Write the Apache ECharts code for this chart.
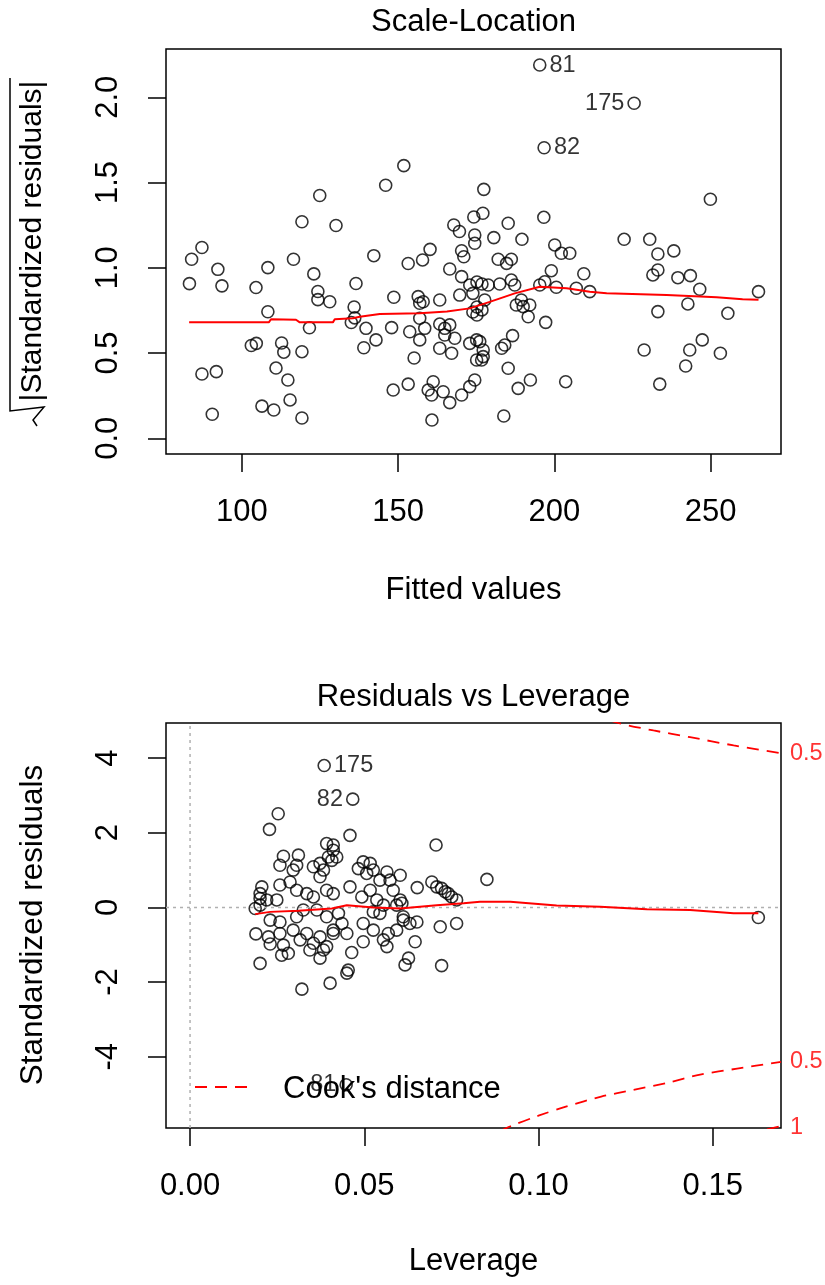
<!DOCTYPE html>
<html>
<head>
<meta charset="utf-8">
<script src="https://cdn.jsdelivr.net/npm/echarts@6/dist/echarts.min.js"></script>
<style>
html,body{margin:0;padding:0;background:#fff;}
#chart{width:825px;height:1285px;}
</style>
</head>
<body>
<div id="chart"></div>
<script>
// ---------- Scale-Location data ----------
const slFitted = [124.9,119.2,130.1,87.2,83.9,116.5,92.3,108.3,123.0,83.2,93.6,104.5,136.5,124.3,124.3,128.1,108.3,135.9,135.0,136.1,139.7,121.6,103.0,104.6,112.7,113.4,119.2,139.0,87.2,91.8,110.9,114.7,106.4,110.2,115.4,90.5,119.2,
142.2,146.0,151.8,153.2,157.8,160.2,167.8,169.6,174.2,174.5,174.5,170.3,171.0,166.5,170.3,172.9,175.2,176.8,169.7,173.9,148.6,156.4,158.0,156.9,163.3,173.9,175.2,176.8,175.2,177.7,142.9,147.9,153.7,156.9,158.5,156.9,163.3,164.9,166.5,164.9,168.1,163.3,167.1,155.1,172.9,175.1,175.1,148.4,153.2,161.2,159.6,160.7,164.4,166.5,170.3,172.9,174.5,160.8,
177.4,177.1,185.2,196.6,180.6,189.6,200.1,202.2,204.9,182.0,184.7,186.2,199.0,209.4,178.8,182.5,186.2,187.3,195.3,196.9,200.6,207.0,211.3,187.8,189.4,190.0,192.1,191.6,197.2,176.1,177.2,176.7,177.2,183.1,184.1,186.6,185.2,188.4,192.3,203.6,183.8,
249.9,222.3,230.5,233.1,238.2,231.5,233.1,239.5,243.5,246.5,265.3,242.7,233.1,255.5,228.7,243.3,247.3,253.1,242.0,233.7];
const slSqrtStdRes = [1.424,1.270,1.248,1.119,1.050,1.050,0.991,1.001,0.964,0.907,0.894,0.884,0.908,0.861,0.813,0.801,0.742,0.770,0.679,0.706,0.645,0.648,0.544,0.557,0.559,0.505,0.508,0.531,0.377,0.391,0.412,0.342,0.189,0.166,0.225,0.141,0.119,
1.071,1.484,1.599,1.025,1.046,1.108,1.251,1.213,1.298,1.192,1.144,1.100,1.065,0.993,0.948,0.899,0.917,0.905,0.840,0.850,0.827,0.831,0.801,0.792,0.811,0.741,0.770,0.753,0.723,0.811,0.577,0.649,0.625,0.704,0.645,0.577,0.670,0.645,0.665,0.606,0.587,0.528,0.499,0.471,0.557,0.577,0.459,0.283,0.318,0.332,0.283,0.254,0.273,0.209,0.254,0.303,0.342,0.107,
1.460,1.320,1.261,1.296,1.177,1.167,1.134,1.085,1.085,1.050,1.026,1.050,0.983,0.965,0.899,0.905,0.928,0.899,0.899,0.918,0.886,0.880,0.860,0.782,0.811,0.772,0.782,0.713,0.680,0.567,0.518,0.459,0.479,0.528,0.547,0.602,0.411,0.293,0.342,0.332,0.131,
1.402,1.167,1.167,1.081,1.099,0.958,0.987,0.942,0.954,0.874,0.860,0.788,0.743,0.733,0.518,0.518,0.577,0.499,0.424,0.318];
const slLabelIds = ['81','175','82'];
const slLabelFitted = [195.3,225.5,196.7];
const slLabelSqrt = [2.189,1.965,1.704];
const slLabelSide = ['right','left','right'];
const slSmoothX = [83.1,108.6,109.3,117.3,118.5,129.1,129.7,135.5,137.7,144.1,156.9,165.6,172.9,179.3,187.3,195.3,203.9,211.3,216.7,235.9,251.9,260.2,265.3];
const slSmoothY = [0.680,0.680,0.698,0.695,0.680,0.680,0.698,0.704,0.713,0.729,0.733,0.743,0.762,0.800,0.850,0.889,0.880,0.860,0.850,0.840,0.827,0.815,0.813];
const slXTicks = [100,150,200,250];
const slYTicks = [0,0.5,1,1.5,2];

// ---------- Residuals vs Leverage data ----------
const rvlLeverage = [0.0253,0.0228,0.0201,0.0321,0.0402,0.0189,0.0392,0.0411,0.0397,0.0407,0.0421,0.0268,0.0258,0.0311,0.0306,0.0296,0.0354,0.0373,0.0383,0.0373,
0.0206,0.0201,0.0258,0.0287,0.0306,0.0335,0.0354,0.0392,0.0411,0.0187,0.0201,0.0220,0.0249,0.0230,0.0258,0.0306,0.0325,0.0364,0.0392,0.0225,
0.0258,0.0296,0.0335,0.0373,0.0411,0.0230,0.0268,0.0316,0.0354,0.0392,0.0263,0.0282,0.0373,0.0344,0.0383,0.0459,0.0706,0.0852,0.0652,0.0694,
0.0708,0.0722,0.0732,0.0741,0.0751,0.0765,0.0603,0.0565,0.0574,0.0583,0.0497,0.0517,0.0526,0.0483,0.0507,0.0459,0.0493,0.0517,0.0545,0.0536,
0.0555,0.0593,0.0603,0.0526,0.0545,0.0612,0.0631,0.0651,0.0718,0.0765,0.0497,0.0526,0.0569,0.0593,0.0497,0.0555,0.0565,0.0646,0.0464,0.0627,
0.0617,0.0722,0.0454,0.0450,0.0411,0.0426,0.0436,0.0411,0.0450,0.1631,0.0608,0.0612,0.0201];
const rvlStdRes = [2.51,2.09,-1.50,-2.19,-2.03,-0.71,1.71,1.53,1.35,1.26,1.35,1.37,1.13,1.40,1.13,1.00,1.09,1.18,1.00,0.82,
0.55,0.37,0.60,0.68,0.46,0.37,0.28,0.46,0.37,-0.03,0.06,0.20,0.20,-0.34,-0.39,-0.25,-0.07,-0.07,-0.25,-0.79,
-0.70,-0.61,-0.70,-0.79,-0.70,-0.98,-1.01,-0.87,-0.96,-1.05,-1.28,-1.23,-1.36,-1.14,-1.14,1.93,1.67,0.75,0.53,0.68,
0.55,0.51,0.42,0.37,0.28,0.20,0.86,0.95,0.73,0.46,1.22,1.18,1.00,1.04,0.91,0.55,0.28,0.46,0.73,0.20,
0.06,0.06,0.20,-0.12,-0.16,-0.25,-0.43,-0.39,-0.52,-0.43,-0.43,-0.61,-0.70,-0.61,-0.92,-0.87,-1.05,-0.92,-1.21,-1.36,
-1.54,-1.56,-1.68,-1.76,1.67,-0.16,-0.43,-0.61,-0.70,-0.27,0.11,-0.34,0.24];
const rvlLabelIds = ['175','82','81'];
const rvlLabelLev = [0.0385,0.0467,0.0448];
const rvlLabelRes = [3.80,2.90,-4.75];
const rvlLabelSide = ['right','left','left'];
const rvlSmoothLev = [0.0187,0.0230,0.0311,0.0407,0.0450,0.0526,0.0603,0.0708,0.0785,0.0832,0.0919,0.0923,0.1052,0.1177,0.1311,0.1435,0.1560,0.1631];
const rvlSmoothRes = [-0.18,-0.12,-0.09,-0.03,0.06,0.00,-0.03,0.06,0.11,0.15,0.15,0.12,0.05,0.02,-0.05,-0.07,-0.16,-0.16];
const cookHalfUpperLev = [0.115,0.1229,0.1330,0.1435,0.1560,0.1696];
const cookHalfUpperRes = [5.19,4.94,4.74,4.56,4.34,4.13];
const cookHalfLowerLev = [0.0890,0.0918,0.1000,0.1081,0.1180,0.1272,0.1370,0.1464,0.1570,0.1696];
const cookHalfLowerRes = [-5.99,-5.87,-5.58,-5.33,-5.07,-4.89,-4.70,-4.48,-4.32,-4.14];
const cookOneLowerLev = [0.160,0.1696];
const cookOneLowerRes = [-6.07,-5.86];
const cookTagText = ['0.5','0.5','1'];
const cookTagRes = [4.13,-4.14,-5.90];
const rvlXTicks = [0,0.05,0.10,0.15];
const rvlYTicks = [-4,-2,0,2,4];

// ---------- build ----------
const FONT = '"Liberation Sans", Arial, sans-serif';
const zip = (a,b) => a.map((v,i)=>[v,b[i]]);
const RED = '#ff0000';
const circleStyle = {color:'rgba(0,0,0,0)', borderColor:'#000', borderWidth:1.6};
const X1 = [75.7, 272.5], Y1 = [-0.092, 2.283];
const X2 = [-0.0069, 0.1696], Y2 = [-5.91, 4.94];

function xAxisCfg(gi, range, ticks, fmt){
  return {gridIndex:gi, type:'value', min:range[0], max:range[1], position:'bottom',
    axisLine:{show:false, onZero:false}, splitLine:{show:false},
    axisTick:{show:true, length:18, lineStyle:{color:'#000', width:1.5}, customValues:ticks},
    axisLabel:{customValues:ticks, margin:43, fontSize:31, color:'#000', fontFamily:FONT, formatter:fmt, hideOverlap:false}};
}
function yAxisCfg(gi, range, ticks, fmt){
  return {gridIndex:gi, type:'value', min:range[0], max:range[1], position:'left',
    axisLine:{show:false, onZero:false}, splitLine:{show:false},
    axisTick:{show:true, length:18, lineStyle:{color:'#000', width:1.5}, customValues:ticks},
    axisLabel:{customValues:ticks, rotate:90, margin:42, fontSize:31, color:'#000', fontFamily:FONT, formatter:fmt, hideOverlap:false}};
}
function txt(x,y,t,size,extra){
  return Object.assign({type:'text', x:x, y:y, silent:true,
    style:{text:t, font:size+'px '+FONT, fontSize:size, fontFamily:FONT, fill:'#000',
      textAlign:'center', textVerticalAlign:'middle', align:'center', verticalAlign:'middle'}}, extra||{});
}

const chart = echarts.init(document.getElementById('chart'), null, {renderer:'canvas'});
const option = {
  animation:false,
  backgroundColor:'#fff',
  textStyle:{fontFamily:FONT},
  grid:[
    {left:166, top:49, width:615, height:405, show:true, borderColor:'#000', borderWidth:1.5, backgroundColor:'transparent'},
    {left:166, top:723, width:615, height:405, show:true, borderColor:'#000', borderWidth:1.5, backgroundColor:'transparent'}
  ],
  xAxis:[
    xAxisCfg(0, X1, slXTicks, v=>String(v)),
    xAxisCfg(1, X2, rvlXTicks, v=>v.toFixed(2))
  ],
  yAxis:[
    yAxisCfg(0, Y1, slYTicks, v=>v.toFixed(1)),
    yAxisCfg(1, Y2, rvlYTicks, v=>String(v))
  ],
  series:[
    {type:'scatter', xAxisIndex:0, yAxisIndex:0, silent:true, symbol:'circle', symbolSize:12,
      itemStyle:circleStyle, data:zip(slFitted, slSqrtStdRes)},
    {type:'scatter', xAxisIndex:0, yAxisIndex:0, silent:true, symbol:'circle', symbolSize:12,
      itemStyle:circleStyle,
      data:slLabelIds.map((id,i)=>({value:[slLabelFitted[i], slLabelSqrt[i]], name:id, label:{position:slLabelSide[i]}})),
      label:{show:true, formatter:p=>p.name, fontSize:23.5, color:'#000', fontFamily:FONT, distance:3}},
    {type:'line', xAxisIndex:0, yAxisIndex:0, silent:true, showSymbol:false, symbol:'none',
      lineStyle:{color:RED, width:2}, data:zip(slSmoothX, slSmoothY)},

    {type:'line', xAxisIndex:1, yAxisIndex:1, silent:true, showSymbol:false, symbol:'none',
      lineStyle:{color:'#b0b0b0', width:1.5, type:[3,4]}, data:[[0, Y2[0]],[0, Y2[1]]]},
    {type:'line', xAxisIndex:1, yAxisIndex:1, silent:true, showSymbol:false, symbol:'none',
      lineStyle:{color:'#b0b0b0', width:1.5, type:[3,4]}, data:[[X2[0],0],[X2[1],0]]},
    {type:'scatter', xAxisIndex:1, yAxisIndex:1, silent:true, symbol:'circle', symbolSize:12,
      itemStyle:circleStyle, data:zip(rvlLeverage, rvlStdRes)},
    {type:'scatter', xAxisIndex:1, yAxisIndex:1, silent:true, symbol:'circle', symbolSize:12,
      itemStyle:circleStyle,
      data:rvlLabelIds.map((id,i)=>({value:[rvlLabelLev[i], rvlLabelRes[i]], name:id, label:{position:rvlLabelSide[i]}})),
      label:{show:true, formatter:p=>p.name, fontSize:23.5, color:'#000', fontFamily:FONT, distance:3}},
    {type:'line', xAxisIndex:1, yAxisIndex:1, silent:true, showSymbol:false, symbol:'none',
      lineStyle:{color:RED, width:2}, data:zip(rvlSmoothLev, rvlSmoothRes)},
    {type:'line', xAxisIndex:1, yAxisIndex:1, silent:true, showSymbol:false, symbol:'none', smooth:0.3, clip:true,
      lineStyle:{color:RED, width:1.8, type:[12,8]}, data:zip(cookHalfUpperLev, cookHalfUpperRes)},
    {type:'line', xAxisIndex:1, yAxisIndex:1, silent:true, showSymbol:false, symbol:'none', smooth:0.3, clip:true,
      lineStyle:{color:RED, width:1.8, type:[12,8]}, data:zip(cookHalfLowerLev, cookHalfLowerRes)},
    {type:'line', xAxisIndex:1, yAxisIndex:1, silent:true, showSymbol:false, symbol:'none', clip:true,
      lineStyle:{color:RED, width:1.8, type:[12,8]}, data:zip(cookOneLowerLev, cookOneLowerRes)},
    {type:'scatter', xAxisIndex:1, yAxisIndex:1, silent:true, symbolSize:0, clip:false,
      data:cookTagText.map((t,i)=>({value:[X2[1], cookTagRes[i]], name:t})),
      label:{show:true, position:'right', distance:9, formatter:p=>p.name, fontSize:23.5, color:RED, fontFamily:FONT}}
  ],
  graphic:[
    txt(473.5, 22.5, 'Scale-Location', 31),
    txt(473.5, 590, 'Fitted values', 31),
    txt(33, 241, '|Standardized residuals|', 30, {rotation:Math.PI/2}),
    {type:'polyline', silent:true, shape:{points:[[10,78],[10,411],[44,407],[33,420],[37,426]]},
      style:{stroke:'#000', lineWidth:1.5, fill:null}},
    txt(473.5, 697.5, 'Residuals vs Leverage', 31),
    txt(473.5, 1261, 'Leverage', 31),
    txt(33, 925, 'Standardized residuals', 31.5, {rotation:Math.PI/2}),
    {type:'line', silent:true, shape:{x1:195, y1:1087, x2:253, y2:1087},
      style:{stroke:RED, lineWidth:1.8, lineDash:[12,8]}},
    (function(){ const t = txt(283, 1089, "Cook's distance", 31); t.style.textAlign='left'; t.style.align='left'; return t; })()
  ]
};
chart.setOption(option);
</script>
</body>
</html>
